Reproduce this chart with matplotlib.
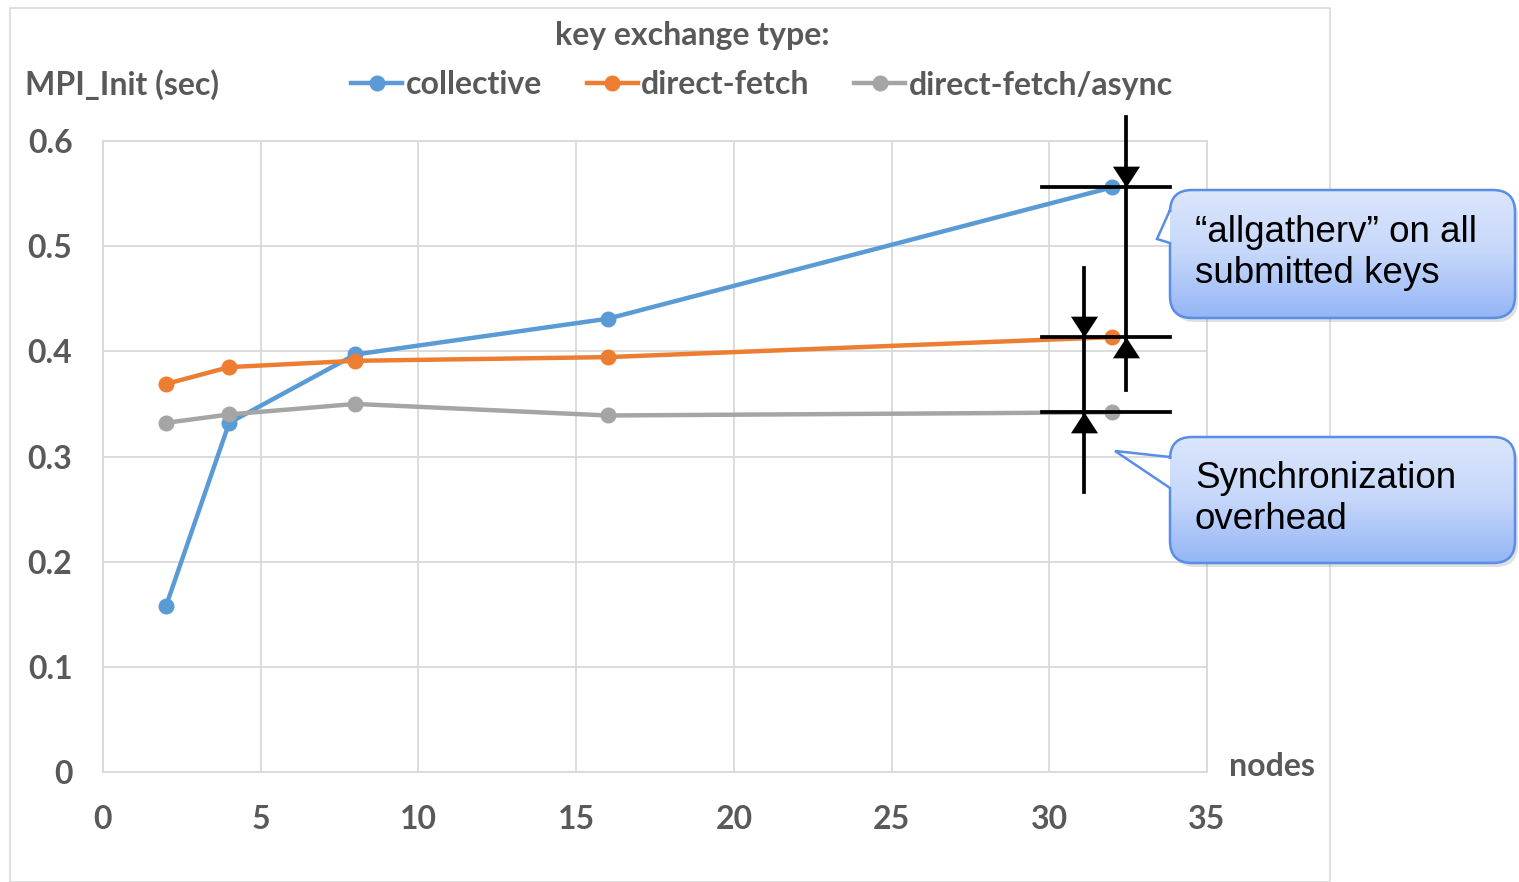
import numpy as np
import matplotlib.pyplot as plt
from matplotlib.path import Path
from matplotlib.patches import PathPatch, Rectangle
from matplotlib.colors import LinearSegmentedColormap

# data
nodes = [2, 4, 8, 16, 32]
collective = [0.158, 0.332, 0.397, 0.431, 0.556]
direct_fetch = [0.369, 0.385, 0.391, 0.3945, 0.4135]
direct_async = [0.332, 0.340, 0.350, 0.339, 0.342]
series_names = ["collective", "direct-fetch", "direct-fetch/async"]
xticks = [0, 5, 10, 15, 20, 25, 30, 35]
yticks = [0, 0.1, 0.2, 0.3, 0.4, 0.5, 0.6]
ytick_labels = ["0", "0.1", "0.2", "0.3", "0.4", "0.5", "0.6"]

txt = "#595959"
grid_c = "#d9d9d9"
colors = ["#5b9bd5", "#ed7d31", "#a5a5a5"]
FONT = "Lato"
FS = 23

W, H = 1519, 882
fig = plt.figure(figsize=(W / 100, H / 100), dpi=100)
fig.patches.append(Rectangle((10 / W, 0), 1320 / W, (H - 8) / H, transform=fig.transFigure,
                             fill=False, edgecolor=grid_c, lw=1.2))

ax = fig.add_axes([103 / W, 1 - 772 / H, (1207 - 103) / W, (772 - 141) / H])
ax.set_xlim(0, 35)
ax.set_ylim(0, 0.6)
ax.set_xticks(xticks)
ax.set_yticks(yticks)
ax.set_yticklabels(ytick_labels)
ax.grid(True, color=grid_c, lw=1.3)
ax.set_axisbelow(True)
for s in ax.spines.values():
    s.set_color(grid_c)
    s.set_linewidth(1.3)
ax.tick_params(length=0, labelsize=FS, labelcolor=txt)
ax.tick_params(axis="y", pad=22)
ax.tick_params(axis="x", pad=24)
for lab in ax.get_xticklabels() + ax.get_yticklabels():
    lab.set_fontweight("bold")
    lab.set_family(FONT)

handles = []
for ys, c, name in zip([collective, direct_fetch, direct_async], colors, series_names):
    h, = ax.plot(nodes, ys, color=c, lw=3.2, marker="o", ms=10.5, label=name, zorder=3)
    handles.append(h)

# dimension-style arrows
ann = dict(color="black", lw=2.7, clip_on=False, zorder=5)
for y in [collective[-1], direct_fetch[-1], direct_async[-1]]:
    ax.plot([29.77, 33.83], [y, y], **ann)
ax.plot([32.43, 32.43], [0.6226, 0.3631], **ann)
ax.plot([31.10, 31.10], [0.479, 0.266], **ann)
down = [(0, 0), (-0.65, 1), (0.65, 1), (0, 0)]
up = [(0, 0), (-0.65, -1), (0.65, -1), (0, 0)]
for x, y, m in [(32.43, collective[-1], down), (32.43, direct_fetch[-1], up),
                (31.10, direct_fetch[-1], down), (31.10, direct_async[-1], up)]:
    ax.plot([x], [y], marker=m, ms=30, color="black", mec="none", clip_on=False, zorder=6)

fig.text(25 / W, 1 - 85 / H, "MPI_Init (sec)", ha="left", va="center",
         fontsize=FS, fontweight="bold", color=txt, family=FONT)
fig.text(1229 / W, 1 - 766 / H, "nodes", ha="left", va="center",
         fontsize=FS, fontweight="bold", color=txt, family=FONT)
fig.text(692 / W, 1 - 35 / H, "key exchange type:", ha="center", va="center",
         fontsize=FS, fontweight="bold", color=txt, family=FONT)
leg = fig.legend(handles=handles, loc="center", bbox_to_anchor=(762 / W, 1 - 85 / H),
                 ncol=3, frameon=False, handlelength=1.6, handletextpad=0.1,
                 columnspacing=1.4, labelcolor=txt,
                 prop={"family": FONT, "weight": "bold", "size": FS})

# callouts drawn in pixel space on an overlay
ov = fig.add_axes([0, 0, 1, 1], zorder=10)
ov.set_axis_off()
ov.patch.set_alpha(0)
cmap = LinearSegmentedColormap.from_list("grad", ["#dce6fc", "#c5d7fa", "#94b5f6"])
C3 = Path.CURVE3


def rounded(l, t, r, b, rad, wedge=None):
    verts = [(l + rad, t), (r - rad, t), (r, t), (r, t + rad), (r, b - rad), (r, b), (r - rad, b),
             (l + rad, b), (l, b), (l, b - rad)]
    codes = [Path.MOVETO, Path.LINETO, C3, C3, Path.LINETO, C3, C3, Path.LINETO, C3, C3]
    if wedge is not None:
        tip, w0, w1 = wedge
        verts += [(l, w1), tip, (l, w0)]
        codes += [Path.LINETO] * 3
    verts += [(l, t + rad), (l, t), (l + rad, t)]
    codes += [Path.LINETO, C3, C3]
    return Path(verts, codes)


def callout(l, t, r, b, tip, w0, w1, rad=22):
    ov.add_patch(PathPatch(rounded(l + 3, t + 4, r + 3, b + 4, rad), facecolor="#999999",
                           alpha=0.3, edgecolor="none", zorder=1))
    patch = PathPatch(rounded(l, t, r, b, rad, (tip, w0, w1)), facecolor="none",
                      edgecolor="#5a8de6", lw=1.8, zorder=3)
    ov.add_patch(patch)
    im = ov.imshow(np.linspace(0, 1, 256).reshape(-1, 1), cmap=cmap, aspect="auto",
                   extent=(l, r, b, t), origin="upper", zorder=2)
    im.set_clip_path(patch)


callout(1170, 190, 1515, 318, (1157, 239), 210, 243)
callout(1170, 437, 1515, 563, (1115, 451), 457, 488)
ov.set_xlim(0, W)
ov.set_ylim(H, 0)
ov.text(1195, 253, "\u201callgatherv\u201d on all\nsubmitted keys", ha="left", va="center",
        fontsize=26.5, family="Liberation Sans", linespacing=1.24, zorder=4)
ov.text(1195, 499, "Synchronization\noverhead", ha="left", va="center",
        fontsize=26.5, family="Liberation Sans", linespacing=1.24, zorder=4)

fig.savefig("out.png", dpi=100)
